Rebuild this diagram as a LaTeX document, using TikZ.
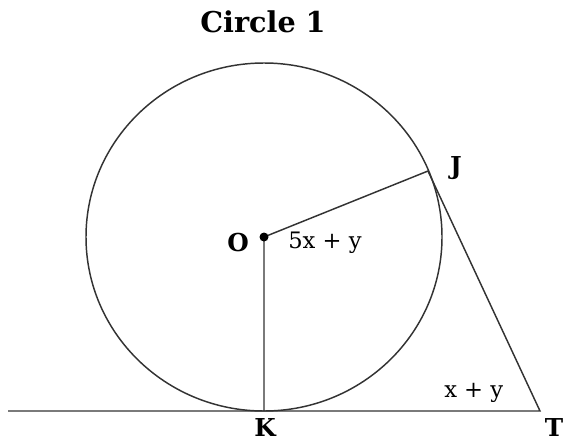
\documentclass[tikz,border=0pt]{standalone}
\usepackage{fontspec}
\setmainfont{DejaVu Serif}
\usepackage{tikz}
\usetikzlibrary{positioning, calc}
\tikzset{
  edge/.style={draw=black!80, line width=1.1pt},
  ptlabel/.style={font=\fontsize{18.5}{21}\selectfont\bfseries, inner sep=0pt},
  anglabel/.style={font=\fontsize{17}{20}\selectfont, inner sep=0pt},
  title/.style={font=\fontsize{21.5}{25}\selectfont\bfseries, inner sep=0pt}
}
\begin{document}
\begin{tikzpicture}[x=0.75pt, y=-0.75pt]
  \useasboundingbox (0,0) rectangle (566,443);
  % points
  \coordinate (O) at (264,237);
  \coordinate (J) at (428,171);
  \coordinate (K) at (264,411);
  \coordinate (T) at (540,411);
  \coordinate (L) at (8,411);
  % circle and segments
  \draw[edge] (O) ellipse [x radius=178, y radius=174];
  \draw[edge] (L) -- (T) -- (J) -- (O) -- (K);
  \fill (O) circle [radius=4.5];
  % labels
  \node[title] (ttl) at (263,22) {Circle 1};
  \node[ptlabel] (lO) at (238,243) {O};
  \node[ptlabel] (lJ) at (456,168) {J};
  \node[ptlabel] (lK) at (265,427) {K};
  \node[ptlabel] (lT) at (554,427) {T};
  \node[anglabel, anchor=west] (aO) at (288,243) {5x + y};
  \node[anglabel, anchor=west] (aT) at (444,393) {x + y};
\end{tikzpicture}
\end{document}
